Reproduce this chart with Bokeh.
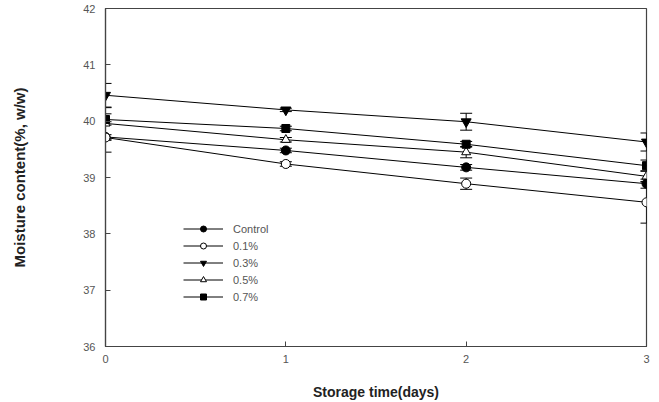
from bokeh.plotting import figure
from bokeh.models import ColumnDataSource, Whisker, FixedTicker, Legend, LegendItem, TeeHead, Range1d
from bokeh.embed import file_html
from bokeh.resources import INLINE

days = [0, 1, 2, 3]
series_names = ["Control", "0.1%", "0.3%", "0.5%", "0.7%"]
control = [39.72, 39.48, 39.18, 38.89]
p01 = [39.71, 39.24, 38.89, 38.56]
p03 = [40.46, 40.20, 39.99, 39.63]
p05 = [39.96, 39.67, 39.45, 39.02]
p07 = [40.03, 39.87, 39.59, 39.21]
err_control = [0.27, 0.04, 0.05, 0.08]
err_p01 = [0.05, 0.04, 0.10, 0.37]
err_p03 = [0.21, 0.03, 0.15, 0.16]
err_p05 = [0.28, 0.04, 0.10, 0.10]
err_p07 = [0.10, 0.04, 0.05, 0.10]
x_ticks = [0, 1, 2, 3]
y_ticks = [36, 37, 38, 39, 40, 41, 42]

values = [control, p01, p03, p05, p07]
errors = [err_control, err_p01, err_p03, err_p05, err_p07]
markers = ["circle", "circle", "inverted_triangle", "triangle", "square"]
fills = ["black", "white", "black", "white", "black"]
sizes = [9, 9, 10, 9, 8]

FONT = "Liberation Sans"

p = figure(width=659, height=402, output_backend="svg", toolbar_location=None,
           x_range=Range1d(0, 3), y_range=Range1d(36, 42),
           min_border_left=105, min_border_right=13, min_border_top=8, min_border_bottom=56)
p.grid.visible = False
p.outline_line_color = "#444444"
p.outline_line_width = 1.2

for ax in (p.xaxis[0], p.yaxis[0]):
    ax.axis_line_color = "#444444"
    ax.axis_line_width = 1.2
    ax.major_tick_in = 5
    ax.major_tick_out = 0
    ax.minor_tick_in = 0
    ax.minor_tick_out = 0
    ax.major_tick_line_color = "#444444"
    ax.major_label_text_font = FONT
    ax.major_label_text_font_size = "11px"
    ax.major_label_text_color = "#555555"
    ax.axis_label_text_font = FONT
    ax.axis_label_text_font_style = "bold"
    ax.axis_label_text_color = "#222222"

p.xaxis.ticker = FixedTicker(ticks=x_ticks)
p.yaxis.ticker = FixedTicker(ticks=y_ticks)
p.xaxis.axis_label = "Storage time(days)"
p.xaxis.axis_label_text_font_size = "14px"
p.xaxis.major_label_standoff = 8
p.xaxis.axis_label_standoff = 18
p.yaxis.axis_label = "Moisture content(%, w/w)"
p.yaxis.axis_label_text_font_size = "15px"
p.yaxis.major_label_standoff = 10
p.yaxis.axis_label_standoff = 52

items = []
for name, vals, errs, mk, fc, sz in zip(series_names, values, errors, markers, fills, sizes):
    src = ColumnDataSource(dict(x=days, y=vals,
                                lo=[v - e for v, e in zip(vals, errs)],
                                hi=[v + e for v, e in zip(vals, errs)]))
    w = Whisker(source=src, base="x", lower="lo", upper="hi", line_color="black", line_width=1,
                lower_head=TeeHead(size=12, line_color="black", line_width=1),
                upper_head=TeeHead(size=12, line_color="black", line_width=1))
    p.add_layout(w)
    p.line("x", "y", source=src, line_color="black", line_width=1)
    p.scatter("x", "y", source=src, marker=mk, size=sz, fill_color=fc,
              line_color="black", line_width=1)
    # legend-only renderers (smaller markers), data placed outside the visible range
    off = ColumnDataSource(dict(x=[-10, -11], y=[-10, -11]))
    l1 = p.line("x", "y", source=off, line_color="black", line_width=1)
    l2 = p.scatter("x", "y", source=off, marker=mk, size=7, fill_color=fc,
                   line_color="black", line_width=1)
    items.append(LegendItem(label=name, renderers=[l1, l2]))

legend = Legend(items=items, location=(78, 42), glyph_width=40, glyph_height=15,
                spacing=2, label_text_font=FONT, label_text_font_size="11px",
                label_text_color="#555555", background_fill_alpha=0,
                border_line_alpha=0, padding=0, margin=0, label_standoff=10)
p.add_layout(legend)

open("out.html", "w").write(file_html(p, INLINE))
